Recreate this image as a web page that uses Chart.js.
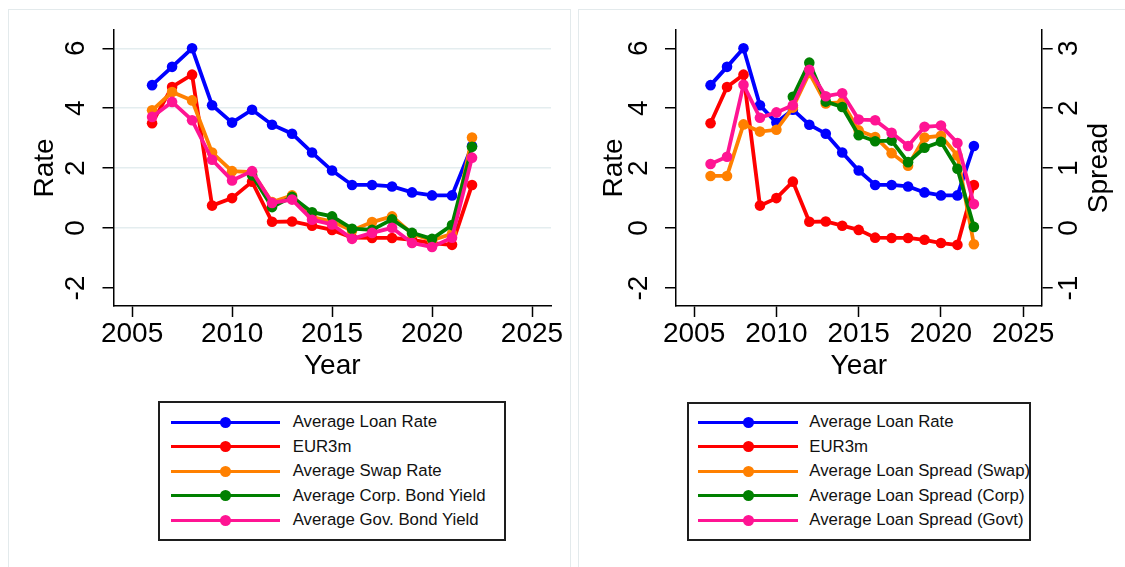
<!DOCTYPE html>
<html>
<head>
<meta charset="utf-8">
<script src="https://cdn.jsdelivr.net/npm/chart.js@4.4.1/dist/chart.umd.min.js"></script>
<style>
  html, body { margin: 0; padding: 0; background: #fff; }
  body { width: 1125px; height: 567px; position: relative; overflow: hidden;
         font-family: 'Liberation Sans', Arial, Helvetica, sans-serif; }
  .frame { position: absolute; border: 1px solid #e3eaec; box-sizing: border-box; }
  canvas { position: absolute; top: 0; }
  .legend { position: absolute; border: 2px solid #1e1e1e; box-sizing: border-box; background: #fff; }
  .sym { position: absolute; height: 3px; }
  .dot { position: absolute; width: 11px; height: 11px; border-radius: 50%; }
  .lab { position: absolute; font-size: 16.8px; line-height: 20px; color: #111; white-space: nowrap; }
</style>
</head>
<body>
<div class="frame" style="left:8px; top:9px; width:563px; height:620px;"></div>
<div class="frame" style="left:578px; top:9px; width:600px; height:620px;"></div>
<canvas id="rates" width="572" height="400" style="left:0; width:572px; height:400px;"></canvas>
<canvas id="spreads" width="553" height="400" style="left:572px; width:553px; height:400px;"></canvas>
<div id="legendRates"></div>
<div id="legendSpreads"></div>

<script>
// Yearly averages, 2006-2022
const years = [2006, 2007, 2008, 2009, 2010, 2011, 2012, 2013, 2014, 2015, 2016, 2017, 2018, 2019, 2020, 2021, 2022];

const loanRate  = [4.77, 5.38, 6.00, 4.10, 3.52, 3.95, 3.45, 3.15, 2.52, 1.92, 1.44, 1.44, 1.39, 1.19, 1.09, 1.09, 2.74];
const eur3m     = [3.50, 4.71, 5.12, 0.75, 1.00, 1.55, 0.21, 0.22, 0.08, -0.06, -0.32, -0.33, -0.33, -0.39, -0.50, -0.56, 1.44];
const swapRate  = [3.93, 4.54, 4.26, 2.52, 1.90, 1.87, 0.87, 1.09, 0.37, 0.22, -0.08, 0.20, 0.39, -0.19, -0.41, -0.19, 3.02];
const corpYield = [null, null, null, null, null, 1.76, 0.70, 1.04, 0.53, 0.39, -0.02, -0.06, 0.29, -0.16, -0.36, 0.10, 2.71];
const govYield  = [3.71, 4.21, 3.60, 2.28, 1.59, 1.90, 0.84, 0.95, 0.28, 0.12, -0.36, -0.16, 0.01, -0.50, -0.63, -0.32, 2.35];

const swapSpread = [0.87, 0.87, 1.73, 1.61, 1.64, 2.01, 2.59, 2.08, 2.10, 1.63, 1.52, 1.25, 1.04, 1.51, 1.54, 1.21, -0.27];
const corpSpread = [null, null, null, null, null, 2.19, 2.76, 2.11, 2.02, 1.55, 1.45, 1.46, 1.10, 1.34, 1.44, 0.99, 0.02];
const govSpread  = [1.07, 1.19, 2.39, 1.84, 1.93, 2.05, 2.64, 2.20, 2.25, 1.81, 1.80, 1.59, 1.37, 1.69, 1.71, 1.42, 0.40];

// Axis tick labels
const yearTicks   = [2005, 2010, 2015, 2020, 2025];
const rateTicks   = [-2, 0, 2, 4, 6];
const rateGrid    = [0, 2, 4, 6];
const spreadTicks = [-1, 0, 1, 2, 3];

const COLORS = { blue: '#0000ff', red: '#ff0000', orange: '#ff8000', green: '#008000', pink: '#ff1493' };
const FONT = "'Liberation Sans', Arial, Helvetica, sans-serif";

Chart.defaults.font.family = FONT;
Chart.defaults.color = '#000';

function pts(vals) { return years.map((yr, i) => ({ x: yr, y: vals[i] })); }

function series(label, vals, color, axis, order) {
  return {
    label, data: pts(vals), yAxisID: axis, order,
    borderColor: color, backgroundColor: color,
    pointBackgroundColor: color, pointBorderColor: color, pointBorderWidth: 0,
    pointRadius: 5.3, pointHoverRadius: 5.3,
    borderWidth: 3.8, tension: 0, clip: false
  };
}

// Pin a scale box to a fixed size so the plot area lands where we want it
function fixSize(size, horizontal) {
  return scale => {
    if (horizontal) scale.height = size; else scale.width = size;
    scale.paddingLeft = scale.paddingRight = scale.paddingTop = scale.paddingBottom = 0;
  };
}

function setTicks(values) {
  return scale => { scale.ticks = values.map(v => ({ value: v })); };
}

function xAxis(min, max, height) {
  return {
    type: 'linear', position: 'bottom', min, max,
    afterBuildTicks: setTicks(yearTicks),
    afterFit: fixSize(height, true),
    grid: { display: true, drawOnChartArea: false, drawTicks: true, tickLength: 11, tickColor: '#000', tickWidth: 1.5 },
    border: { display: true, color: '#000', width: 1.5 },
    ticks: { autoSkip: false, maxRotation: 0, padding: 0, font: { size: 28 }, color: '#000', callback: v => String(v) },
    title: { display: true, text: 'Year', color: '#000', font: { size: 28 }, padding: { top: 0, bottom: 17 } }
  };
}

function yAxis(opts) {
  return {
    type: 'linear', position: opts.position, min: opts.min, max: opts.max,
    afterBuildTicks: setTicks(opts.ticks),
    afterFit: fixSize(opts.width, false),
    grid: {
      display: true, drawOnChartArea: !!opts.grid, drawTicks: true, tickLength: 11,
      tickColor: '#000', tickWidth: 1.5, lineWidth: 1.5,
      color: c => (opts.grid && c.tick && opts.grid.includes(c.tick.value)) ? '#e4edef' : 'rgba(0,0,0,0)'
    },
    border: { display: true, color: '#000', width: 1.5 },
    ticks: {
      autoSkip: false, minRotation: 90, maxRotation: 90, crossAlign: 'center',
      padding: opts.pad, font: { size: 28 }, color: '#000', callback: v => String(v)
    },
    title: opts.title
      ? { display: true, text: opts.title, color: '#000', font: { size: 28 }, padding: { top: opts.titlePad, bottom: 0 } }
      : { display: false }
  };
}

// Right-hand axis title, read bottom-to-top like the left one
const spreadTitle = {
  id: 'spreadTitle',
  afterDraw(chart) {
    const s = chart.scales.y1;
    const ctx = chart.ctx;
    ctx.save();
    ctx.translate(s.left + 57.3, (s.top + s.bottom) / 2);
    ctx.rotate(-Math.PI / 2);
    ctx.font = '28px ' + FONT;
    ctx.fillStyle = '#000';
    ctx.textAlign = 'center';
    ctx.textBaseline = 'middle';
    ctx.fillText('Spread', 0, 0);
    ctx.restore();
  }
};

const common = {
  responsive: false, animation: false, devicePixelRatio: 1, events: [],
  plugins: { legend: { display: false }, tooltip: { enabled: false } }
};

const ratesSeries = [
  { label: 'Average Loan Rate', vals: loanRate, color: COLORS.blue },
  { label: 'EUR3m', vals: eur3m, color: COLORS.red },
  { label: 'Average Swap Rate', vals: swapRate, color: COLORS.orange },
  { label: 'Average Corp. Bond Yield', vals: corpYield, color: COLORS.green },
  { label: 'Average Gov. Bond Yield', vals: govYield, color: COLORS.pink }
];

const spreadSeries = [
  { label: 'Average Loan Rate', vals: loanRate, color: COLORS.blue, axis: 'y' },
  { label: 'EUR3m', vals: eur3m, color: COLORS.red, axis: 'y' },
  { label: 'Average Loan Spread (Swap)', vals: swapSpread, color: COLORS.orange, axis: 'y1' },
  { label: 'Average Loan Spread (Corp)', vals: corpSpread, color: COLORS.green, axis: 'y1' },
  { label: 'Average Loan Spread (Govt)', vals: govSpread, color: COLORS.pink, axis: 'y1' }
];

new Chart(document.getElementById('rates'), {
  type: 'line',
  data: { datasets: ratesSeries.map((s, i) => series(s.label, s.vals, s.color, 'y', ratesSeries.length - i)) },
  options: Object.assign({}, common, {
    layout: { padding: { left: 0, top: 30, right: 21, bottom: 0 } },
    scales: {
      x: xAxis(2004.07, 2025.95, 94),
      y: yAxis({ position: 'left', min: -2.6, max: 6.61, ticks: rateTicks, grid: rateGrid,
                 width: 113.5, pad: 13.3, title: 'Rate', titlePad: 28 })
    }
  })
});

new Chart(document.getElementById('spreads'), {
  type: 'line',
  data: { datasets: spreadSeries.map((s, i) => series(s.label, s.vals, s.color, s.axis, spreadSeries.length - i)) },
  options: Object.assign({}, common, {
    layout: { padding: { left: 0, top: 30, right: 0, bottom: 0 } },
    scales: {
      x: xAxis(2003.9, 2026.12, 94),
      y: yAxis({ position: 'left', min: -2.6, max: 6.61, ticks: rateTicks, grid: null,
                 width: 104, pad: 13.3, title: 'Rate', titlePad: 25 }),
      y1: yAxis({ position: 'right', min: -1.3, max: 3.305, ticks: spreadTicks, grid: null,
                  width: 83.3, pad: 3.9, title: null })
    }
  }),
  plugins: [spreadTitle]
});

// Stata-style legend boxes beneath each panel
function buildLegend(el, items, box) {
  el.className = 'legend';
  Object.assign(el.style, { left: box.left + 'px', top: box.top + 'px', width: box.width + 'px', height: box.height + 'px' });
  items.forEach((it, i) => {
    const cy = box.firstRow + i * 24.5 - box.top - 2;
    const line = document.createElement('div');
    line.className = 'sym';
    Object.assign(line.style, { left: (box.lineStart - box.left - 2) + 'px', width: (box.lineEnd - box.lineStart) + 'px',
                                top: (cy - 1.5) + 'px', background: it.color });
    const dot = document.createElement('div');
    dot.className = 'dot';
    Object.assign(dot.style, { left: ((box.lineStart + box.lineEnd) / 2 - box.left - 2 - 5.5) + 'px', top: (cy - 5.5) + 'px', background: it.color });
    const lab = document.createElement('div');
    lab.className = 'lab';
    lab.textContent = it.label;
    Object.assign(lab.style, { left: (box.textX - box.left - 2) + 'px', top: (cy - 10) + 'px' });
    el.appendChild(line); el.appendChild(dot); el.appendChild(lab);
  });
}

buildLegend(document.getElementById('legendRates'), ratesSeries,
  { left: 158, top: 401, width: 348, height: 140, firstRow: 422.3, lineStart: 170.7, lineEnd: 280, textX: 292.7 });
buildLegend(document.getElementById('legendSpreads'), spreadSeries,
  { left: 686.5, top: 402, width: 344.5, height: 139, firstRow: 422.3, lineStart: 698.3, lineEnd: 797.7, textX: 809.3 });
</script>
</body>
</html>
